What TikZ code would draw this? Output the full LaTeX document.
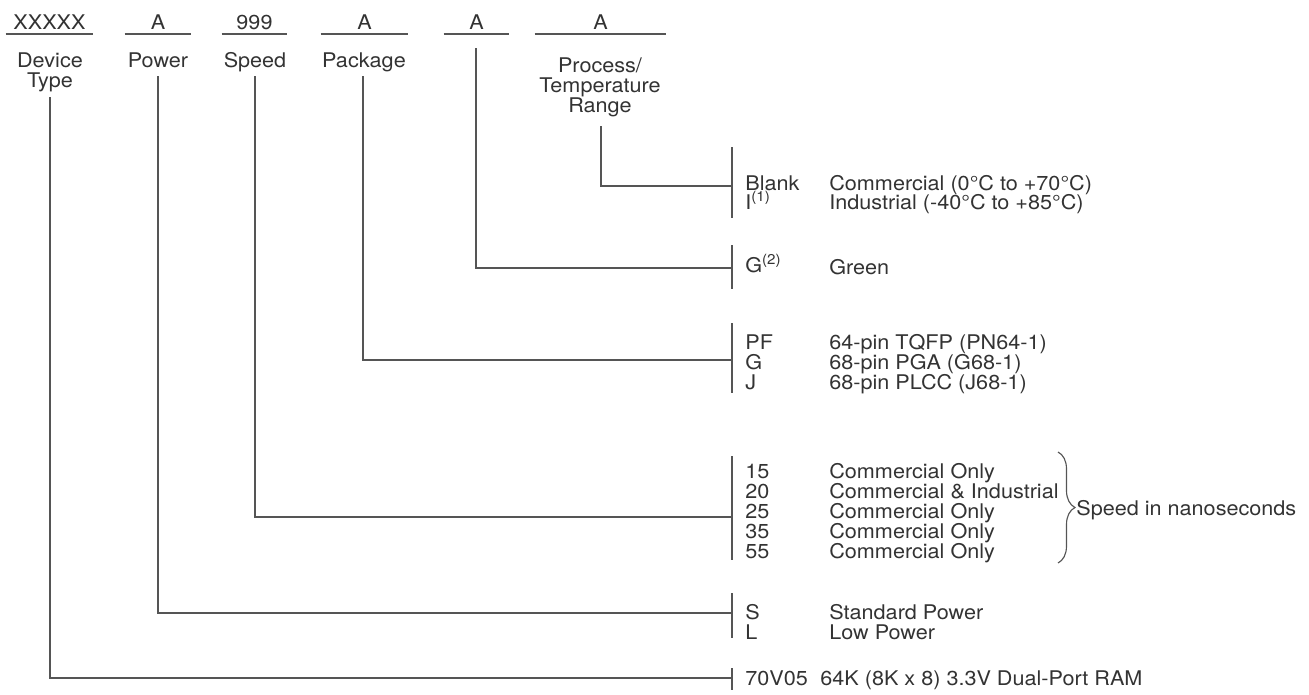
\documentclass[tikz,border=0pt]{standalone}
\usepackage{fontspec}
\setmainfont{TeX Gyre Heros}[FakeStretch=1.07]
\usepackage{xcolor}
\usetikzlibrary{decorations.pathreplacing}
\definecolor{inkgray}{HTML}{333333}
\definecolor{linegray}{HTML}{555555}

\begin{document}
\begin{tikzpicture}[x=0.02cm, y=-0.02cm,
    every node/.style={inner sep=0pt, text=inkgray, font=\fontsize{11.5}{11.3}\selectfont},
    field/.style={anchor=south, minimum width=#1*0.02cm, text height=8.2pt, text depth=0pt, inner ysep=2.6pt},
    heading/.style={anchor=north, align=center},
    entry/.style={anchor=west, text height=8.2pt, text depth=0pt},
    wire/.style={draw=linegray, line width=0.65pt}]
    \useasboundingbox (0,0) rectangle (1309,694);

    % --- Ordering code fields along the top ---
    \node[field=87]  (cDev)  at (49.5,34)  {XXXXX};
    \node[field=66]  (cPow)  at (158,34)   {A};
    \node[field=65]  (cSpd)  at (254.5,34) {999};
    \node[field=87]  (cPkg)  at (364.5,34) {A};
    \node[field=65]  (cGrn)  at (476.5,34) {A};
    \node[field=131] (cProc) at (600.5,34) {A};
    \draw[wire] (cDev.south west) -- (cDev.south east);
    \draw[wire] (cPow.south west) -- (cPow.south east);
    \draw[wire] (cSpd.south west) -- (cSpd.south east);
    \draw[wire] (cPkg.south west) -- (cPkg.south east);
    \draw[wire] (cGrn.south west) -- (cGrn.south east);
    \draw[wire] (cProc.south west) -- (cProc.south east);

    % --- Field names ---
    \node[heading] (lDev)  at (50,52.5)  {Device\\Type};
    \node[heading] (lPow)  at (158,52.5) {Power};
    \node[heading] (lSpd)  at (255,52.5) {Speed};
    \node[heading] (lPkg)  at (364,52.5) {Package};
    \node[heading] (lProc) at (600,57.5) {Process/\\Temperature\\Range};

    % --- Tap points under the names and on the option bars ---
    \coordinate (tDev)  at (50,97);
    \coordinate (tPow)  at (158,76);
    \coordinate (tSpd)  at (255,76);
    \coordinate (tPkg)  at (363,76);
    \coordinate (tGrn)  at (476,48);
    \coordinate (tProc) at (601,126);
    \coordinate (jProc) at (732,186);
    \coordinate (jGrn)  at (732,268);
    \coordinate (jPkg)  at (732,360);
    \coordinate (jSpd)  at (732,517);
    \coordinate (jPow)  at (732,613);
    \coordinate (jDev)  at (732,678);

    % --- Option bars ---
    \draw[wire] (732,147) -- (732,218);
    \draw[wire] (732,245) -- (732,289);
    \draw[wire] (732,323) -- (732,393);
    \draw[wire] (732,456) -- (732,560);
    \draw[wire] (732,593) -- (732,638);
    \draw[wire] (732,668) -- (732,690);

    % --- Leaders from each field to its options ---
    \draw[wire] (tProc) |- (jProc);
    \draw[wire] (tGrn)  |- (jGrn);
    \draw[wire] (tPkg)  |- (jPkg);
    \draw[wire] (tSpd)  |- (jSpd);
    \draw[wire] (tPow)  |- (jPow);
    \draw[wire] (tDev)  |- (jDev);

    % --- Process / temperature range ---
    \node[entry] (oBlank) at (745,183) {Blank};
    \node[entry] (oInd)   at (745,202) {I\textsuperscript{(1)}};
    \node[entry] (dCom)   at (829,183) {Commercial (0°C to +70°C)};
    \node[entry] (dInd)   at (829,202) {Industrial (-40°C to +85°C)};

    % --- Green ---
    \node[entry] (oGrn) at (745,265) {G\textsuperscript{(2)}};
    \node[entry] (dGrn) at (829,267) {Green};

    % --- Package ---
    \node[entry] (oPF) at (745,342) {PF};
    \node[entry] (oG)  at (745,362) {G};
    \node[entry] (oJ)  at (745,382) {J};
    \node[entry] (dPF) at (829,342) {64-pin TQFP (PN64-1)};
    \node[entry] (dG)  at (829,362) {68-pin PGA (G68-1)};
    \node[entry] (dJ)  at (829,382) {68-pin PLCC (J68-1)};

    % --- Speed ---
    \node[entry] (s15) at (745,471.5) {15};
    \node[entry] (s20) at (745,491.5) {20};
    \node[entry] (s25) at (745,511.5) {25};
    \node[entry] (s35) at (745,531.5) {35};
    \node[entry] (s55) at (745,551.5) {55};
    \node[entry] (d15) at (829,471.5) {Commercial Only};
    \node[entry] (d20) at (829,491.5) {Commercial \& Industrial};
    \node[entry] (d25) at (829,511.5) {Commercial Only};
    \node[entry] (d35) at (829,531.5) {Commercial Only};
    \node[entry] (d55) at (829,551.5) {Commercial Only};
    \draw[wire, decorate, decoration={brace, amplitude=0.34cm}] (1058,452) -- (1058,563);
    \node[entry] (nsNote) at (1076,508) {Speed in nanoseconds};

    % --- Power ---
    \node[entry] (oS) at (745,612) {S};
    \node[entry] (oL) at (745,632) {L};
    \node[entry] (dS) at (829,612) {Standard Power};
    \node[entry] (dL) at (829,632) {Low Power};

    % --- Device type ---
    \node[entry] (oDev) at (745,678) {70V05};
    \node[entry] (dDev) at (820,678) {64K (8K x 8) 3.3V Dual-Port RAM};
\end{tikzpicture}
\end{document}
